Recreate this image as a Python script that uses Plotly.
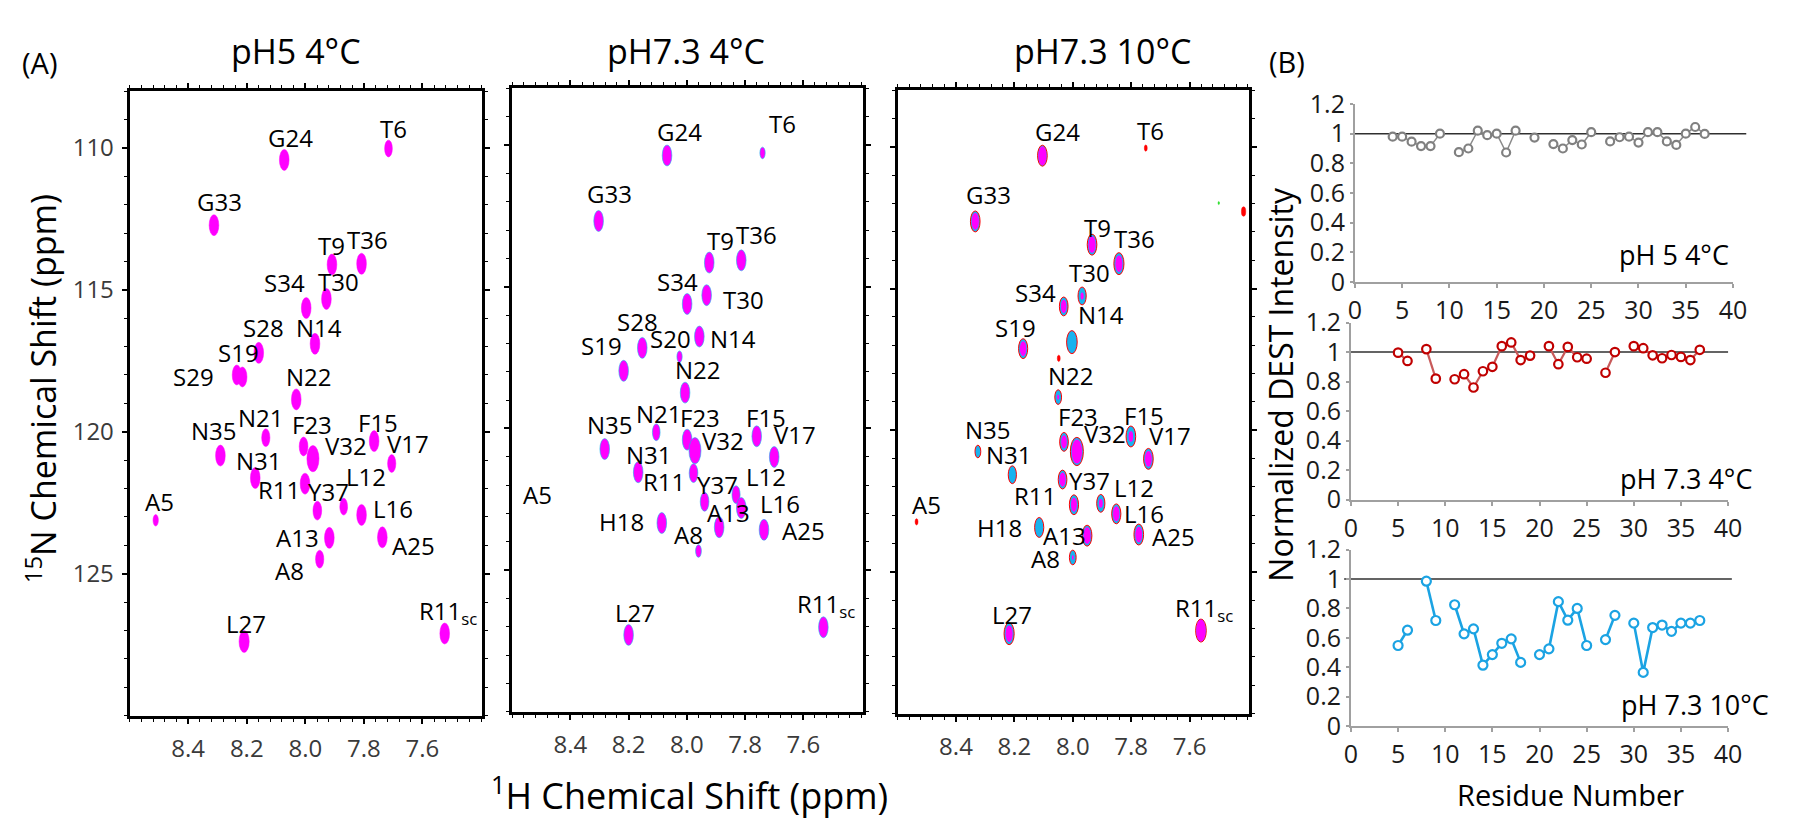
import plotly.graph_objects as go

W, H = 1800, 829

# ------------------------------------------------------------------ data
# (A) 1H-15N peak positions (ppm), one list per spectrum
RES1 = ["T6", "G24", "G33", "T9", "T36", "T30", "S34", "N14", "S28", "S19", "S29", "N22",
        "N21", "N35", "F23", "V32", "F15", "V17", "N31", "R11", "Y37", "L12", "L16", "A13",
        "A25", "A8", "A5", "L27", "R11sc"]
H1 = [7.716, 8.072, 8.312, 7.909, 7.808, 7.928, 7.997, 7.967, 8.159, 8.215, 8.234, 8.031,
      8.135, 8.290, 8.006, 7.974, 7.765, 7.705, 8.171, 8.001, 7.959, 7.869, 7.808, 7.918,
      7.737, 7.951, 8.511, 8.209, 7.524]
N1 = [110.02, 110.42, 112.72, 114.11, 114.08, 115.32, 115.64, 116.90, 117.22, 118.07, 118.00, 118.86,
      120.21, 120.84, 120.52, 120.95, 120.33, 121.12, 121.63, 121.83, 122.78, 122.64, 122.93, 123.74,
      123.72, 124.49, 123.12, 127.39, 127.11]

RES2 = ["T6", "G24", "G33", "T9", "T36", "T30", "S34", "N14", "S28", "S20", "S19", "N22",
        "N21", "F23", "V32", "F15", "V17", "N35", "N31", "R11", "Y37", "L12", "L16", "A13",
        "A25", "H18", "A8", "A5", "L27", "R11sc"]
H2 = [7.740, 8.068, 8.303, 7.923, 7.813, 7.932, 7.999, 7.957, 8.153, 8.025, 8.217, 8.006,
      8.105, 7.999, 7.972, 7.760, 7.700, 8.282, 8.167, 7.977, 7.939, 7.831, 7.813, 7.889,
      7.735, 8.086, 7.960, 8.511, 8.200, 7.531]
N2 = [110.28, 110.37, 112.68, 114.15, 114.07, 115.30, 115.61, 116.76, 117.16, 117.47, 117.97, 118.74,
      120.14, 120.40, 120.79, 120.28, 121.01, 120.73, 121.55, 121.58, 122.59, 122.34, 122.81, 123.49,
      123.58, 123.34, 124.33, 123.12, 127.29, 127.02]

RES3 = ["T6", "G24", "G33", "T9", "T36", "T30", "S34", "N14", "S19", "N22", "N35", "F23",
        "V32", "F15", "V17", "N31", "R11", "Y37", "L12", "L16", "A13", "A25", "H18", "A8",
        "A5", "L27", "R11sc"]
H3 = [7.750, 8.104, 8.334, 7.934, 7.842, 7.968, 8.031, 8.003, 8.170, 8.050, 8.325, 8.030,
      7.986, 7.801, 7.741, 8.207, 8.035, 7.996, 7.904, 7.851, 7.951, 7.774, 8.115, 8.000,
      8.535, 8.218, 7.561]
N3 = [110.04, 110.31, 112.63, 113.45, 114.12, 115.26, 115.63, 116.89, 117.12, 118.83, 120.75, 120.41,
      120.75, 120.22, 121.01, 121.57, 121.74, 122.63, 122.58, 122.95, 123.72, 123.68, 123.43, 124.49,
      123.23, 127.18, 127.07]
# unassigned weak signals in the pH7.3 10C spectrum
EXTRA3_H = [8.048, 7.415, 7.500]
EXTRA3_N = [117.46, 112.28, 111.98]

# (B) normalized DEST intensity vs residue number
RES_B1 = [4, 5, 6, 7, 8, 9, 11, 12, 13, 14, 15, 16, 17, 19, 21, 22, 23, 24, 25,
          27, 28, 29, 30, 31, 32, 33, 34, 35, 36, 37]
VAL_B1 = [0.98, 0.98, 0.946, 0.916, 0.916, 1.0, 0.875, 0.90, 1.02, 0.99, 1.0, 0.873, 1.02, 0.974,
          0.93, 0.90, 0.957, 0.927, 1.01, 0.948, 0.976, 0.98, 0.94, 1.01, 1.01, 0.948, 0.924,
          1.0, 1.045, 0.998]
RES_B2 = [5, 6, 8, 9, 11, 12, 13, 14, 15, 16, 17, 18, 19, 21, 22, 23, 24, 25, 27, 28,
          30, 31, 32, 33, 34, 35, 36, 37]
VAL_B2 = [0.996, 0.94, 1.02, 0.82, 0.816, 0.85, 0.76, 0.87, 0.90, 1.04, 1.065, 0.946, 0.976,
          1.04, 0.918, 1.035, 0.965, 0.955, 0.86, 1.0, 1.04, 1.026, 0.978, 0.958, 0.98, 0.967,
          0.946, 1.015]
RES_B3 = [5, 6, 8, 9, 11, 12, 13, 14, 15, 16, 17, 18, 20, 21, 22, 23, 24, 25, 27, 28,
          30, 31, 32, 33, 34, 35, 36, 37]
VAL_B3 = [0.548, 0.652, 0.985, 0.718, 0.825, 0.627, 0.661, 0.414, 0.486, 0.563, 0.593, 0.433,
          0.486, 0.525, 0.846, 0.72, 0.80, 0.548, 0.588, 0.753, 0.70, 0.365, 0.67, 0.687,
          0.644, 0.70, 0.70, 0.718]
REF_LEVEL = 1.0

TITLES_A = ["pH5 4°C", "pH7.3 4°C", "pH7.3 10°C"]
TITLES_B = ["pH 5 4°C", "pH 7.3 4°C", "pH 7.3 10°C"]
H_TICKS = [8.4, 8.2, 8.0, 7.8, 7.6]
N_TICKS = [110, 115, 120, 125]
B_XTICKS = [0, 5, 10, 15, 20, 25, 30, 35, 40]
B_YTICKS = [0, 0.2, 0.4, 0.6, 0.8, 1.0, 1.2]
B_YTEXT = ["0", "0.2", "0.4", "0.6", "0.8", "1", "1.2"]

# ------------------------------------------------------------------ styles
FONT = "Open Sans"
MAG = "#ff00ff"
CYAN = "#19b2ee"
RX, RY = 0.0165, 0.37          # base peak half-widths (ppm)

# label offsets (px, right / down) from the peak
OFF1 = {"T6": (5, -20), "G24": (6, -22), "G33": (6, -24), "T9": (0, -19), "T36": (6, -24),
        "T30": (12, -17), "S34": (-22, -26), "N14": (4, -16), "S28": (5, -25), "S19": (-4, -24),
        "S29": (-43, 2), "N22": (13, -23), "N21": (-5, -20), "N35": (-6, -25), "F23": (8, -22),
        "V32": (33, -13), "F15": (4, -19), "V17": (16, -20), "N31": (4, -17), "R11": (-26, 6),
        "Y37": (11, -19), "L12": (22, -30), "L16": (31, -6), "A13": (-32, 0), "A25": (31, 8),
        "A8": (-30, 11), "A5": (4, -19), "L27": (2, -18), "R11sc": (3, -22)}
OFF2 = {"T6": (20, -29), "G24": (12, -24), "G33": (11, -27), "T9": (11, -22), "T36": (15, -26),
        "T30": (37, 4), "S34": (-10, -22), "N14": (34, 2), "S28": (-5, -26), "S20": (-9, -18),
        "S19": (-22, -25), "N22": (13, -23), "N21": (3, -19), "F23": (13, -22), "V32": (28, -10),
        "F15": (9, -19), "V17": (21, -22), "N35": (5, -25), "N31": (11, -18), "R11": (-30, 8),
        "Y37": (13, -17), "L12": (30, -18), "L16": (39, -4), "A13": (9, -15), "A25": (40, 1),
        "H18": (-40, -1), "A8": (-10, -17), "A5": (-1, -22), "L27": (6, -22), "R11sc": (3, -22)}
OFF3 = {"T6": (5, -18), "G24": (15, -24), "G33": (13, -27), "T9": (5, -17), "T36": (16, -25),
        "T30": (7, -23), "S34": (-28, -14), "N14": (29, -28), "S19": (-8, -21), "N22": (13, -22),
        "N35": (10, -22), "F23": (14, -25), "V32": (28, -18), "F15": (13, -21), "V17": (22, -23),
        "N31": (-3, -20), "R11": (-28, 16), "Y37": (16, -24), "L12": (33, -16), "L16": (28, 0),
        "A13": (-23, 0), "A25": (35, 2), "H18": (-40, 0), "A8": (-27, 1), "A5": (10, -17),
        "L27": (3, -19), "R11sc": (3, -22)}

SIZE1 = {"T6": 0.8, "N21": 0.85, "F23": 0.9, "V32": 1.25, "V17": 0.85, "Y37": 0.9, "L12": 0.8,
         "A8": 0.85, "A5": 0.55, "L27": 1.05, "S29": 0.95, "S19": 0.95}
SIZE2 = {"T6": 0.55, "S20": 0.55, "A8": 0.6, "A5": 0.0, "N21": 0.8, "V32": 1.25, "R11": 0.9,
         "F23": 1.0, "L12": 0.85, "Y37": 0.9}
# panel 3: (outer cyan scale, inner magenta fraction); "red" = weak red-only signal
STYLE3 = {"T6": "red", "G24": (1.0, 0.9), "G33": (1.0, 0.8), "T9": (1.0, 0.8), "T36": (1.05, 0.75),
          "T30": (0.85, 0.4), "S34": (0.9, 0.7), "N14": (1.1, 0.0), "S19": (0.95, 0.75),
          "N22": (0.7, 0.35), "N35": (0.6, 0.0), "F23": (0.9, 0.7), "V32": (1.35, 0.85),
          "F15": (1.0, 0.5), "V17": (1.0, 0.75), "N31": (0.85, 0.0), "R11": (0.9, 0.75),
          "Y37": (0.95, 0.7), "L12": (0.85, 0.5), "L16": (0.95, 0.75), "A13": (1.0, 0.8),
          "A25": (1.0, 0.75), "H18": (0.95, 0.0), "A8": (0.7, 0.3), "A5": "red",
          "L27": (1.05, 0.75), "R11sc": (1.1, 0.95)}
EXTRA3_COL = ["red", "red", "#22dd22"]
EXTRA3_SIZE = [0.3, 0.45, 0.15]

# panel geometry in pixels (left, right, top, bottom)
BOX_A = [(116, 473, 68, 719), (503, 858, 65, 715), (893, 1249, 67, 717)]
TITLE_X = [284, 679, 1100]
BOX_B = [(1355.7, 1738.3, 81.4, 266.7), (1351.7, 1733.3, 309.2, 494.0), (1351.7, 1733.3, 546.0, 730.0)]
COND_XY = [(1736, 238), (1760, 472), (1777, 707)]
REF_SPAN = [(0.0, 1.035), (0.0, 1.0), (-0.018, 1.01)]
B_COL = ["#808080", "#c00000", "#1ba3e3"]
B_LINE = ["#8a8a8a", "#c85a5a", "#1ba3e3"]
B_LW = [1.5, 2.2, 2.6]
B_MS = [8, 8.5, 9]

LABEL_SIZE = 24
TICK_SIZE = 24


def px(x):
    return x / W


def py(y):
    return 1 - y / H


def label_text(r):
    return "R11<sub>sc</sub>" if r == "R11sc" else r


def paper_text(x, y, text, size, angle=0, xanchor="center"):
    return dict(x=px(x), y=py(y), xref="paper", yref="paper", text=text, showarrow=False,
                textangle=angle, xanchor=xanchor, yanchor="middle",
                font=dict(family=FONT, size=size, color="black"))


fig = go.Figure()
shapes = []
annotations = []
layout = {}

peak_sets = [(RES1, H1, N1, OFF1), (RES2, H2, N2, OFF2), (RES3, H3, N3, OFF3)]

for i, (res, hs, ns, off) in enumerate(peak_sets):
    k = "" if i == 0 else str(i + 1)
    xa, ya = "x" + k, "y" + k
    l, r, t, b = BOX_A[i]
    layout["xaxis" + k] = dict(
        domain=[px(l), px(r)], anchor=ya, range=[8.6, 7.395],
        tickvals=H_TICKS, ticktext=["%.1f" % v for v in H_TICKS],
        ticks="outside", ticklen=5, tickwidth=2, tickcolor="black",
        showline=True, linewidth=3, linecolor="black", mirror="ticks",
        showgrid=False, zeroline=False, ticklabelstandoff=5,
        tickfont=dict(family=FONT, size=TICK_SIZE, color="#3a3a3a"),
        minor=dict(tick0=7.6, dtick=0.04, ticks="outside", ticklen=3, tickwidth=1, tickcolor="black"))
    yax = dict(
        domain=[py(b), py(t)], anchor=xa, range=[130, 108],
        tickvals=N_TICKS, showticklabels=(i == 0),
        ticks="outside", ticklen=5, tickwidth=2, tickcolor="black",
        showline=True, linewidth=3, linecolor="black", mirror="ticks",
        showgrid=False, zeroline=False, ticklabelstandoff=3,
        tickfont=dict(family=FONT, size=TICK_SIZE, color="#3a3a3a"),
        minor=dict(tick0=110, dtick=1, ticks="outside", ticklen=3, tickwidth=1, tickcolor="black"))
    if i == 0:
        yax["ticktext"] = [str(v) for v in N_TICKS]
    layout["yaxis" + k] = yax

    # invisible anchor trace (hover) for the subplot
    fig.add_trace(go.Scatter(x=hs, y=ns, mode="markers", text=res, xaxis=xa, yaxis=ya,
                             marker=dict(size=6, opacity=0), showlegend=False,
                             hovertemplate="%{text}: %{x:.3f}, %{y:.2f}<extra></extra>"))

    for r_, h_, n_ in zip(res, hs, ns):
        if i == 0:
            s = SIZE1.get(r_, 1.0)
            shapes.append(dict(type="circle", xref=xa, yref=ya, x0=h_ - RX * s, x1=h_ + RX * s,
                               y0=n_ - RY * s, y1=n_ + RY * s, fillcolor=MAG,
                               line=dict(color=MAG, width=0.5)))
        elif i == 1:
            s = SIZE2.get(r_, 1.0)
            if s > 0:
                shapes.append(dict(type="circle", xref=xa, yref=ya, x0=h_ - RX * s, x1=h_ + RX * s,
                                   y0=n_ - RY * s, y1=n_ + RY * s, fillcolor=MAG,
                                   line=dict(color=CYAN, width=0.6)))
        else:
            st = STYLE3[r_]
            if st == "red":
                s = 0.3
                shapes.append(dict(type="circle", xref=xa, yref=ya, x0=h_ - RX * s, x1=h_ + RX * s,
                                   y0=n_ - RY * s, y1=n_ + RY * s, fillcolor="red",
                                   line=dict(color="red", width=0.5)))
            else:
                s, fin = st
                shapes.append(dict(type="circle", xref=xa, yref=ya, x0=h_ - RX * s, x1=h_ + RX * s,
                                   y0=n_ - RY * s, y1=n_ + RY * s, fillcolor=CYAN,
                                   line=dict(color="red", width=1)))
                if fin > 0:
                    si = s * fin
                    shapes.append(dict(type="circle", xref=xa, yref=ya,
                                       x0=h_ - RX * si * 0.95, x1=h_ + RX * si * 0.95,
                                       y0=n_ - RY * si, y1=n_ + RY * si, fillcolor=MAG,
                                       line=dict(width=0)))
        dx, dy = off[r_]
        annotations.append(dict(x=h_, y=n_, xref=xa, yref=ya, text=label_text(r_), showarrow=False,
                                xshift=dx, yshift=-dy, xanchor="center", yanchor="middle",
                                font=dict(family=FONT, size=LABEL_SIZE, color="black")))

    annotations.append(paper_text(TITLE_X[i], 26, TITLES_A[i], 34))

for h_, n_, c_, s in zip(EXTRA3_H, EXTRA3_N, EXTRA3_COL, EXTRA3_SIZE):
    shapes.append(dict(type="circle", xref="x3", yref="y3", x0=h_ - RX * s, x1=h_ + RX * s,
                       y0=n_ - RY * s, y1=n_ + RY * s, fillcolor=c_, line=dict(color=c_, width=0.5)))

# ------------------------------------------------------------------ (B)
b_sets = [(RES_B1, VAL_B1), (RES_B2, VAL_B2), (RES_B3, VAL_B3)]
for j, (rs, vs) in enumerate(b_sets):
    k = str(j + 4)
    xa, ya = "x" + k, "y" + k
    l, r, t, b = BOX_B[j]
    layout["xaxis" + k] = dict(
        domain=[px(l), px(r)], anchor=ya, range=[0, 40], tickvals=B_XTICKS,
        ticks="outside", ticklen=4, tickwidth=1.5, tickcolor="#a0a0a0",
        showline=True, linewidth=1.8, linecolor="#a0a0a0", showgrid=False, zeroline=False,
        ticklabelstandoff=1, tickfont=dict(family=FONT, size=25, color="#1a1a1a"))
    layout["yaxis" + k] = dict(
        domain=[py(b), py(t)], anchor=xa, range=[0, 1.2], tickvals=B_YTICKS, ticktext=B_YTEXT,
        ticks="outside", ticklen=3, tickwidth=1.5, tickcolor="#a0a0a0",
        showline=True, linewidth=1.8, linecolor="#a0a0a0", showgrid=False, zeroline=False,
        ticklabelstandoff=0, tickfont=dict(family=FONT, size=25, color="#1a1a1a"))
    # break the line wherever a residue is missing
    xs, ys = [], []
    for idx, (rr, vv) in enumerate(zip(rs, vs)):
        if idx > 0 and rr - rs[idx - 1] > 1:
            xs.append(None)
            ys.append(None)
        xs.append(rr)
        ys.append(vv)
    x0, x1 = REF_SPAN[j]
    shapes.append(dict(type="line", xref=xa + " domain", yref=ya, x0=x0, x1=x1,
                       y0=REF_LEVEL, y1=REF_LEVEL, line=dict(color="#303030", width=1.6), layer="below"))
    fig.add_trace(go.Scatter(x=xs, y=ys, xaxis=xa, yaxis=ya, mode="lines+markers",
                             connectgaps=False, showlegend=False, cliponaxis=False,
                             line=dict(color=B_LINE[j], width=B_LW[j]),
                             marker=dict(symbol="circle", size=B_MS[j], color="white",
                                         line=dict(color=B_COL[j], width=2.2))))
    cx, cy = COND_XY[j]
    annotations.append(paper_text(cx, cy, TITLES_B[j], 27, xanchor="right"))

# ------------------------------------------------------------------ text
annotations += [
    paper_text(25, 38, "(A)", 29),
    paper_text(1287, 37, "(B)", 29),
    paper_text(27, 378, "<sup>15</sup>N Chemical Shift (ppm)", 34, angle=-90),
    paper_text(682, 800, "<sup>1</sup>H Chemical Shift (ppm)", 36),
    paper_text(1281, 374, "Normalized DEST Intensity", 32, angle=-90),
    paper_text(1574, 801, "Residue Number", 29),
]

fig.update_layout(
    width=W, height=H, margin=dict(l=0, r=0, t=0, b=0),
    paper_bgcolor="white", plot_bgcolor="white",
    shapes=shapes, annotations=annotations, showlegend=False,
    font=dict(family=FONT), **layout)

fig.write_html("out.html")
